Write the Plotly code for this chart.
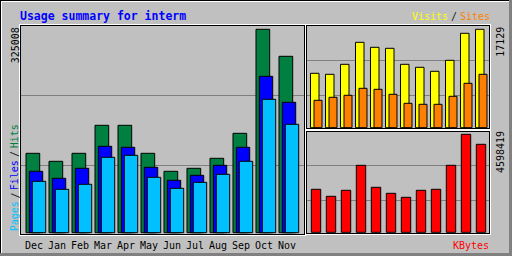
import plotly.graph_objects as go

# ---------------- data ----------------
months = ["Dec", "Jan", "Feb", "Mar", "Apr", "May", "Jun", "Jul", "Aug", "Sep", "Oct", "Nov"]
hits   = [126870, 114090, 126870, 171620, 171620, 126870, 98110, 102900, 118880, 158830, 325008, 281870]
files  = [98110, 86925, 102900, 138060, 136460, 104500, 83730, 91720, 107700, 136460, 249910, 208370]
pages  = [82130, 69350, 77340, 120480, 123680, 88520, 70950, 80530, 93320, 114090, 213160, 173210]
visits = [9470, 9295, 11036, 14866, 13995, 13821, 11036, 10514, 9818, 11733, 16433, 17129]
sites  = [4770, 5292, 5640, 6858, 6684, 5814, 4247, 4073, 4073, 5466, 7729, 9295]
kbytes = [2017680, 1689200, 1970700, 3143800, 2111500, 1830000, 1642300, 1970700, 2017700, 3143800, 4598419, 4129100]
title_text = "Usage summary for interm"
max_hits_label = "325008"
max_visits_label = "17129"
max_kbytes_label = "4598419"

W, H = 512, 256
GREY = "#C0C0C0"
DKGREY = "#808080"
C_HITS, C_FILES, C_PAGES = "#008040", "#0000FF", "#00C0FF"
C_VISITS, C_SITES, C_KB = "#FFFF00", "#FF8000", "#FF0000"
MONO = "DejaVu Sans Mono"


def px(x):
    return x / W


def py(y):
    return 1 - y / H


fig = go.Figure()
outline = dict(color="black", width=1)

# left panel bars (hits/files/pages)
for vals, col, off, wd in [(hits, C_HITS, -0.435, 0.596),
                           (files, C_FILES, -0.291, 0.583),
                           (pages, C_PAGES, -0.161, 0.583)]:
    fig.add_trace(go.Bar(x=months, y=vals, xaxis="x", yaxis="y", offset=off, width=wd,
                         marker=dict(color=col, line=outline), hoverinfo="skip"))

# top right (visits / sites)
for vals, col, off, wd in [(visits, C_VISITS, -0.367, 0.567),
                           (sites, C_SITES, -0.133, 0.533)]:
    fig.add_trace(go.Bar(x=months, y=vals, xaxis="x2", yaxis="y2", offset=off, width=wd,
                         marker=dict(color=col, line=outline), hoverinfo="skip"))

# bottom right (kbytes)
fig.add_trace(go.Bar(x=months, y=kbytes, xaxis="x3", yaxis="y3", offset=-0.313, width=0.627,
                     marker=dict(color=C_KB, line=outline), hoverinfo="skip"))

ax_common = dict(showgrid=False, zeroline=False, showticklabels=False, showline=False,
                 ticks="", fixedrange=True)
fig.update_layout(
    width=W, height=H, margin=dict(l=0, r=0, t=0, b=0, pad=0),
    paper_bgcolor=GREY, plot_bgcolor="rgba(0,0,0,0)",
    barmode="overlay", showlegend=False,
    xaxis=dict(domain=[px(20), px(305)], range=[-0.696, 11.696], type="category", **ax_common),
    yaxis=dict(domain=[py(235), py(25)], range=[-3675, 331900], **ax_common),
    xaxis2=dict(domain=[px(305), px(490)], range=[-0.733, 11.6], type="category", anchor="y2", **ax_common),
    yaxis2=dict(domain=[py(129), py(25)], range=[-226, 17877], anchor="x2", **ax_common),
    xaxis3=dict(domain=[px(305), px(490)], range=[-0.733, 11.6], type="category", anchor="y3", **ax_common),
    yaxis3=dict(domain=[py(234), py(130)], range=[-79767, 4800120], anchor="x3", **ax_common),
)

shapes = []


def hline(row, c0, c1, color, layer="above"):
    shapes.append(dict(type="line", xref="paper", yref="paper", x0=px(c0), x1=px(c1 + 1),
                       y0=py(row + 0.5), y1=py(row + 0.5), line=dict(color=color, width=1), layer=layer))


def vline(col, r0, r1, color, layer="above"):
    shapes.append(dict(type="line", xref="paper", yref="paper", x0=px(col + 0.5), x1=px(col + 0.5),
                       y0=py(r0), y1=py(r1 + 1), line=dict(color=color, width=1), layer=layer))


# gridlines
for r in (95, 165):
    hline(r, 21, 303, DKGREY, "below")
for r in (60, 95, 165, 200):
    hline(r, 306, 488, DKGREY, "below")


def panel(l, t, r, b):
    # outer white, inner black
    hline(t - 1, l - 1, r + 1, "white")
    vline(l - 1, t - 1, b + 1, "white")
    hline(b + 1, l - 1, r + 1, "white")
    vline(r + 1, t - 1, b + 1, "white")
    hline(t, l, r, "black")
    vline(l, t, b, "black")
    hline(b, l, r, "black")
    vline(r, t, b, "black")


panel(20, 25, 304, 234)
panel(306, 25, 489, 128)
panel(306, 131, 489, 233)

# outer frame
hline(0, 0, 511, "black")
vline(0, 0, 255, "black")
hline(1, 1, 510, "white")
vline(1, 1, 254, "white")
shapes.append(dict(type="rect", xref="paper", yref="paper", x0=px(0), x1=px(512), y0=py(256), y1=py(253),
                   fillcolor=DKGREY, line=dict(width=0), layer="above"))
shapes.append(dict(type="rect", xref="paper", yref="paper", x0=px(509), x1=px(512), y0=py(256), y1=py(0),
                   fillcolor=DKGREY, line=dict(width=0), layer="above"))
fig.update_layout(shapes=shapes)

ann = []


def text(t, x, y, color, size=10, xanchor="center", angle=0, bold=False, xref="paper", xshift=0):
    ann.append(dict(text=(f"<b>{t}</b>" if bold else t), x=x, y=y, xref=xref, yref="paper",
                    showarrow=False, xanchor=xanchor, yanchor="middle", textangle=angle,
                    xshift=xshift, font=dict(family=MONO, size=size, color=color)))


text(title_text, px(20), py(15.5), "#0000FF", size=11.5, xanchor="left", bold=True, xshift=-2)
text("Visits", px(429.7), py(16.5), C_VISITS)
text("/", px(453.5), py(16.5), "#202020")
text("Sites", px(474.7), py(16.5), C_SITES)
text("KBytes", px(490), py(245), C_KB, xanchor="right", xshift=1)
text(max_hits_label, px(15), py(45.3), "black", angle=-90)
text(max_visits_label, px(500.5), py(42.3), "black", angle=-90)
text(max_kbytes_label, px(500.5), py(152.5), "black", angle=-90)
text("Pages", px(14.5), py(216.8), C_PAGES, angle=-90)
text("/", px(14.5), py(196), "#202020", angle=-90)
text("Files", px(14.5), py(175.8), C_FILES, angle=-90)
text("/", px(14.5), py(154.5), "#202020", angle=-90)
text("Hits", px(14.5), py(136.7), C_HITS, angle=-90)
for m in months:
    text(m, m, py(245.5), "black", size=10, xref="x", xshift=-2)
fig.update_layout(annotations=ann)

fig.write_html("out.html", config={"displayModeBar": False})
